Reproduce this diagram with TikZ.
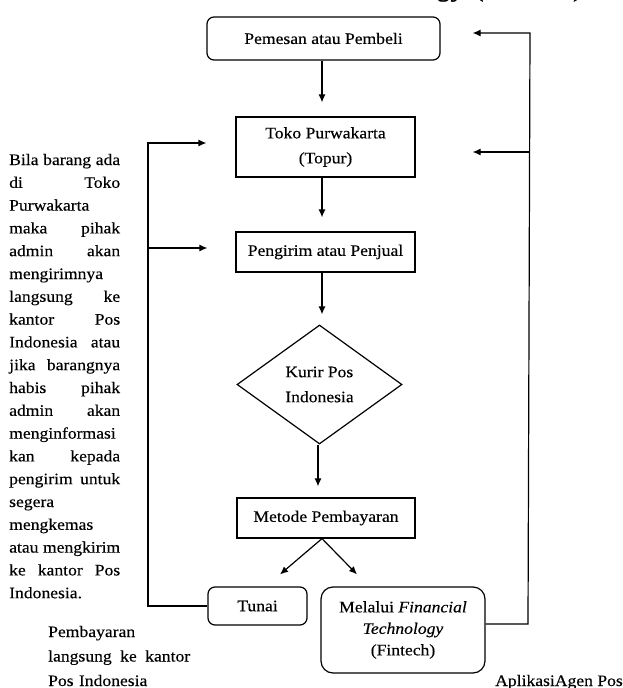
\documentclass[tikz,border=0pt]{standalone}
\usepackage{fontspec}
\setmainfont{Liberation Serif}[FakeStretch=1.1,FakeBold=0.3]
\usetikzlibrary{shapes.geometric,arrows.meta,calc}
\newcommand\jl[1]{\leavevmode\hbox to 111pt{#1}\\}
\newcommand\jp[1]{\leavevmode\hbox to 142pt{#1}\\}
\begin{document}
\begin{tikzpicture}[x=1pt,y=-1pt,
 txt/.style={font=\fontsize{16}{25}\selectfont},
 box/.style={draw, line width=1.2pt, inner sep=0pt, align=center, txt},
 rbox/.style={box, rounded corners=7pt},
 link/.style={line width=1.2pt},
 arr/.style={link, -{Latex[length=8pt,width=7pt]}},
 para/.style={inner sep=0pt, align=left, anchor=base west},
]
\useasboundingbox (0,0) rectangle (622,688);

\begin{scope}
\clip (0,0) rectangle (622,688);
\node[anchor=base east, inner sep=0pt, font=\fontsize{27}{30}\selectfont] (head) at (583,-4) {\textit{Technology} (Fintech)};
\end{scope}

\node[rbox, minimum width=233pt, minimum height=43pt] (pem) at (323.5,38.5) {Pemesan atau Pembeli};
\node[box, minimum width=179pt, minimum height=60pt] (toko) at (325.5,147) {Toko Purwakarta\\(Topur)};
\node[box, minimum width=179pt, minimum height=40pt] (peng) at (325.5,252) {Pengirim atau Penjual};
\node[box, diamond, minimum width=165pt, minimum height=119pt, align=left] (kurir) at (319.5,384.5) {Kurir Pos\\Indonesia};
\node[box, minimum width=178pt, minimum height=40pt] (metode) at (326,518) {Metode Pembayaran};
\node[rbox, minimum width=99pt, minimum height=38pt] (tunai) at (257.5,606) {Tunai};
\node[rbox, rounded corners=12pt, minimum width=164pt, minimum height=86pt, font=\fontsize{16}{21.5}\selectfont] (fin) at (403,630) {Melalui \textit{Financial}\\\textit{Technology}\\(Fintech)};

\draw[arr, shorten >=14pt] ([xshift=-1.5pt]pem.south) -- ([xshift=-1.5pt]pem.south |- toko.north);
\draw[arr, shorten >=14pt] ([xshift=-3.5pt]toko.south) -- ([xshift=-3.5pt]toko.south |- peng.north);
\draw[arr, shorten >=10pt] ([xshift=-3.5pt]peng.south) -- ([xshift=-3.5pt]peng.south |- kurir.north);
\draw[arr, shorten >=11pt] ([xshift=-1.5pt]kurir.south) -- ([xshift=-1.5pt]kurir.south |- metode.north);
\draw[arr] ([xshift=-4pt]metode.south) -- ($(tunai.north)+(22.5,-12)$);
\draw[arr] ([xshift=-4pt]metode.south) -- ($(fin.north)+(-46,-12)$);

\coordinate (lb) at (148,606);
\coordinate (l1) at (148,143);
\coordinate (l2) at (148,248);
\draw[arr] (tunai.west) -- (lb) -- (l1) -- ([xshift=-29pt]toko.west |- l1);
\draw[arr] (l2) -- ([xshift=-28pt]peng.west |- l2);

\coordinate (rb) at (528,624);
\coordinate (r1) at (530,33);
\coordinate (r2) at (530,152);
\draw[arr] ([yshift=6pt]fin.east) -- (rb) -- (r1) -- ([xshift=32pt]pem.east |- r1);
\draw[arr] (r2) -- ([xshift=57pt]toko.east |- r2);

\node[para, text width=111pt, font=\fontsize{16}{22.8}\selectfont] (note) at (9,165) {%
\jl{Bila\hfill barang\hfill ada}%
\jl{di\hfill Toko}%
Purwakarta\\
\jl{maka\hfill pihak}%
\jl{admin\hfill akan}%
mengirimnya\\
\jl{langsung\hfill ke}%
\jl{kantor\hfill Pos}%
\jl{Indonesia\hfill atau}%
\jl{jika\hfill barangnya}%
\jl{habis\hfill pihak}%
\jl{admin\hfill akan}%
menginformasi\\
\jl{kan\hfill kepada}%
\jl{pengirim\hfill untuk}%
segera\\
mengkemas\\
\jl{atau\hfill mengkirim}%
\jl{ke\hfill kantor\hfill Pos}%
Indonesia.};

\node[para, text width=142pt, font=\fontsize{16}{24.5}\selectfont] (pay) at (48,637) {Pembayaran\\
\jp{langsung\hfill ke\hfill kantor}%
Pos Indonesia};

\node[anchor=base east, inner sep=0pt, font=\fontsize{16}{18}\selectfont] (app) at (623,686) {AplikasiAgen Pos};
\end{tikzpicture}
\end{document}
